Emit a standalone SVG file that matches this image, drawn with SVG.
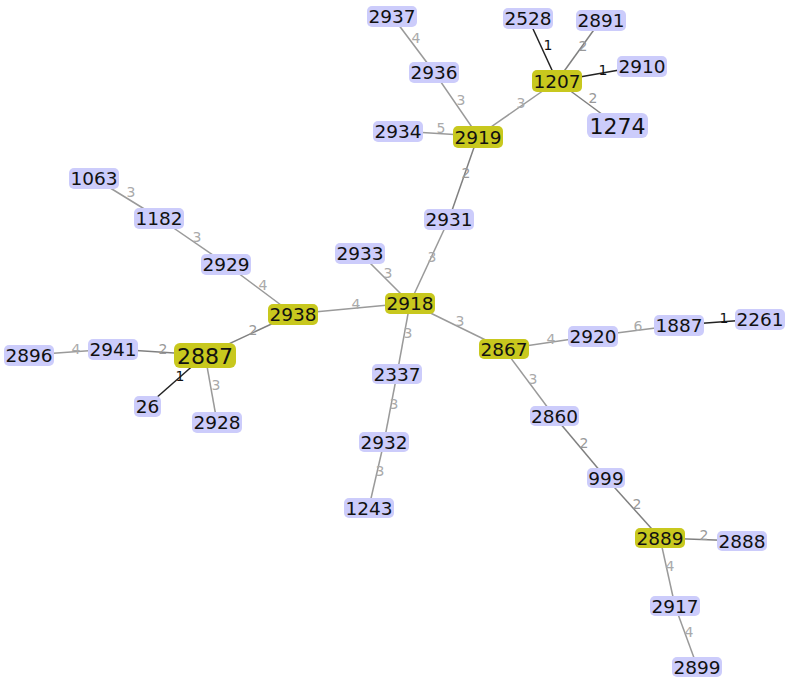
<svg xmlns="http://www.w3.org/2000/svg" width="791" height="684" viewBox="0 0 791 684">
<style>
.n rect{fill:#ccccfb;}
.h rect{fill:#c8c81e;}
.n text,.h text{font-family:"DejaVu Sans",Verdana,sans-serif;font-size:18.5px;fill:#111;text-anchor:middle;}
.big text{font-size:22px;}
#edges line{stroke:#9a9a9a;stroke-width:1.5;}
#edges line.w2{stroke:#808080;}
#edges line.w1{stroke:#222;}
#edges text{font-family:"DejaVu Sans",Verdana,sans-serif;font-size:14px;fill:#aaa;text-anchor:middle;}
#edges text.w1{fill:#111;}
#edges text.w2{fill:#999;}
</style>
<rect width="791" height="684" fill="#fff"/>
<g id="edges">
<line x1="392" y1="16" x2="434" y2="72"/><text x="416" y="43">4</text>
<line x1="434" y1="72" x2="478" y2="136"/><text x="461" y="105">3</text>
<line x1="398" y1="131" x2="478" y2="136"/><text x="441" y="133">5</text>
<line x1="478" y1="136" x2="557" y2="81"/><text x="521" y="108">3</text>
<line class="w1" x1="528" y1="18" x2="557" y2="81"/><text class="w1" x="548" y="50">1</text>
<line class="w2" x1="601" y1="20" x2="557" y2="81"/><text class="w2" x="583" y="51">2</text>
<line class="w1" x1="642" y1="66" x2="557" y2="81"/><text class="w1" x="603" y="75">1</text>
<line class="w2" x1="557" y1="81" x2="618" y2="126"/><text class="w2" x="593" y="103">2</text>
<line class="w2" x1="478" y1="136" x2="449" y2="219"/><text class="w2" x="466" y="178">2</text>
<line x1="449" y1="219" x2="410" y2="303"/><text x="432" y="262">3</text>
<line x1="360" y1="253" x2="410" y2="303"/><text x="388" y="278">3</text>
<line x1="410" y1="303" x2="293" y2="314"/><text x="356" y="309">4</text>
<line x1="293" y1="314" x2="226" y2="264"/><text x="263" y="290">4</text>
<line x1="226" y1="264" x2="159" y2="218"/><text x="197" y="242">3</text>
<line x1="159" y1="218" x2="94" y2="178"/><text x="131" y="197">3</text>
<line class="w2" x1="293" y1="314" x2="205" y2="355"/><text class="w2" x="253" y="335">2</text>
<line class="w2" x1="205" y1="355" x2="113" y2="349"/><text class="w2" x="163" y="354">2</text>
<line x1="113" y1="349" x2="29" y2="355"/><text x="76" y="354">4</text>
<line class="w1" x1="205" y1="355" x2="147" y2="406"/><text class="w1" x="180" y="381">1</text>
<line x1="205" y1="355" x2="217" y2="422"/><text x="216" y="390">3</text>
<line x1="410" y1="303" x2="397" y2="374"/><text x="408" y="338">3</text>
<line x1="397" y1="374" x2="384" y2="442"/><text x="394" y="409">3</text>
<line x1="384" y1="442" x2="369" y2="507"/><text x="380" y="476">3</text>
<line x1="410" y1="303" x2="504" y2="349"/><text x="460" y="326">3</text>
<line x1="504" y1="349" x2="593" y2="336"/><text x="551" y="344">4</text>
<line x1="593" y1="336" x2="679" y2="325"/><text x="638" y="331">6</text>
<line class="w1" x1="679" y1="325" x2="760" y2="319"/><text class="w1" x="724" y="323">1</text>
<line x1="504" y1="349" x2="554" y2="416"/><text x="533" y="384">3</text>
<line class="w2" x1="554" y1="416" x2="606" y2="478"/><text class="w2" x="584" y="448">2</text>
<line class="w2" x1="606" y1="478" x2="660" y2="538"/><text class="w2" x="637" y="509">2</text>
<line class="w2" x1="660" y1="538" x2="742" y2="541"/><text class="w2" x="704" y="540">2</text>
<line x1="660" y1="538" x2="675" y2="606"/><text x="670" y="571">4</text>
<line x1="675" y1="606" x2="697" y2="666"/><text x="689" y="637">4</text>
</g>
<g id="n2937" class="n"><rect x="367" y="6" width="50" height="21" rx="5"/><text x="392" y="22.5">2937</text></g>
<g id="n2528" class="n"><rect x="503" y="8" width="50" height="21" rx="5"/><text x="528" y="24.5">2528</text></g>
<g id="n2891" class="n"><rect x="576" y="10" width="50" height="21" rx="5"/><text x="601" y="26.5">2891</text></g>
<g id="n2910" class="n"><rect x="617" y="56" width="50" height="21" rx="5"/><text x="642" y="72.5">2910</text></g>
<g id="n1207" class="h"><rect x="532" y="70" width="50" height="22" rx="5"/><text x="557" y="87.5">1207</text></g>
<g id="n1274" class="n big"><rect x="587" y="113" width="61" height="25" rx="6"/><text x="617.5" y="133.5">1274</text></g>
<g id="n2936" class="n"><rect x="409" y="62" width="50" height="21" rx="5"/><text x="434" y="78.5">2936</text></g>
<g id="n2934" class="n"><rect x="373" y="121" width="50" height="21" rx="5"/><text x="398" y="137.5">2934</text></g>
<g id="n2919" class="h"><rect x="453" y="126" width="50" height="22" rx="5"/><text x="478" y="143.5">2919</text></g>
<g id="n2931" class="n"><rect x="424" y="209" width="50" height="21" rx="5"/><text x="449" y="225.5">2931</text></g>
<g id="n2933" class="n"><rect x="335" y="243" width="50" height="21" rx="5"/><text x="360" y="259.5">2933</text></g>
<g id="n2918" class="h"><rect x="385" y="293" width="50" height="21" rx="5"/><text x="410" y="309.5">2918</text></g>
<g id="n2938" class="h"><rect x="268" y="304" width="50" height="21" rx="5"/><text x="293" y="320.5">2938</text></g>
<g id="n2929" class="n"><rect x="201" y="254" width="50" height="21" rx="5"/><text x="226" y="270.5">2929</text></g>
<g id="n1182" class="n"><rect x="134" y="208" width="50" height="21" rx="5"/><text x="159" y="224.5">1182</text></g>
<g id="n1063" class="n"><rect x="69" y="168" width="50" height="21" rx="5"/><text x="94" y="184.5">1063</text></g>
<g id="n2887" class="h big"><rect x="174" y="343" width="62" height="25" rx="6"/><text x="205" y="363.5">2887</text></g>
<g id="n2941" class="n"><rect x="88" y="339" width="50" height="21" rx="5"/><text x="113" y="355.5">2941</text></g>
<g id="n2896" class="n"><rect x="4" y="345" width="50" height="21" rx="5"/><text x="29" y="361.5">2896</text></g>
<g id="n26" class="n"><rect x="134" y="396" width="27" height="21" rx="5"/><text x="147.5" y="412.5">26</text></g>
<g id="n2928" class="n"><rect x="192" y="412" width="50" height="21" rx="5"/><text x="217" y="428.5">2928</text></g>
<g id="n2337" class="n"><rect x="372" y="364" width="50" height="20" rx="5"/><text x="397" y="380.5">2337</text></g>
<g id="n2932" class="n"><rect x="359" y="432" width="50" height="20" rx="5"/><text x="384" y="448.5">2932</text></g>
<g id="n1243" class="n"><rect x="344" y="498" width="50" height="20" rx="5"/><text x="369" y="514.5">1243</text></g>
<g id="n2867" class="h"><rect x="479" y="339" width="50" height="20" rx="5"/><text x="504" y="355.5">2867</text></g>
<g id="n2920" class="n"><rect x="568" y="326" width="50" height="21" rx="5"/><text x="593" y="342.5">2920</text></g>
<g id="n1887" class="n"><rect x="654" y="315" width="50" height="21" rx="5"/><text x="679" y="331.5">1887</text></g>
<g id="n2261" class="n"><rect x="735" y="309" width="50" height="21" rx="5"/><text x="760" y="325.5">2261</text></g>
<g id="n2860" class="n"><rect x="530" y="406" width="49" height="20" rx="5"/><text x="554.5" y="422.5">2860</text></g>
<g id="n999" class="n"><rect x="587" y="468" width="38" height="20" rx="5"/><text x="606" y="484.5">999</text></g>
<g id="n2889" class="h"><rect x="635" y="528" width="50" height="20" rx="5"/><text x="660" y="544.5">2889</text></g>
<g id="n2888" class="n"><rect x="717" y="531" width="50" height="20" rx="5"/><text x="742" y="547.5">2888</text></g>
<g id="n2917" class="n"><rect x="650" y="596" width="50" height="20" rx="5"/><text x="675" y="612.5">2917</text></g>
<g id="n2899" class="n"><rect x="672" y="657" width="50" height="20" rx="5"/><text x="697" y="673.5">2899</text></g>
</svg>
